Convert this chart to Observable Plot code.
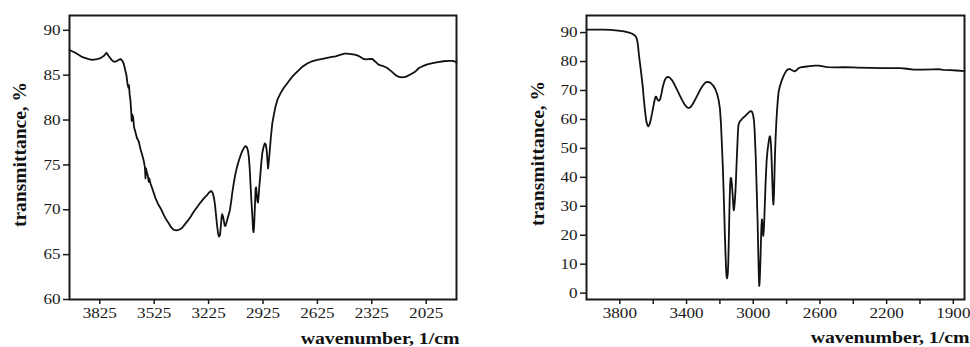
<!DOCTYPE html>
<html>
<head>
<meta charset="utf-8">
<script src="https://cdn.jsdelivr.net/npm/d3@7"></script>
<script src="https://cdn.jsdelivr.net/npm/@observablehq/plot@0.6"></script>
<style>
  html, body { margin: 0; padding: 0; background: #fff; }
  #wrap { position: relative; width: 970px; height: 347px; overflow: hidden; background: #fff; }
  #left, #right { position: absolute; top: 0; }
  #left { left: 0; }
  #right { left: 485px; }
</style>
</head>
<body>
<div id="wrap"><div id="left"></div><div id="right"></div></div>
<script>
// ---- Left spectrum ----
const leftWn = [3992,3960,3920,3886,3867,3840,3821,3800,3788,3775,3760,3748,3738,3722,3711,3700,3692,3684,3678,3672,3667,3664,3660,3656,3652,3649,3646,3641,3636,3628,3620,3610,3601,3591,3582,3576,3573,3570,3566,3560,3555,3552,3545,3536,3518,3500,3485,3472,3458,3445,3430,3417,3400,3385,3370,3355,3343,3325,3306,3288,3270,3250,3235,3224,3211,3203,3196,3190,3184,3178,3172,3167,3162,3157,3153,3150,3146,3141,3136,3132,3126,3118,3108,3100,3095,3086,3077,3068,3058,3048,3040,3030,3022,3014,3008,3003,2998,2994,2989,2984,2980,2977,2974,2970,2966,2963,2960,2956,2953,2950,2946,2940,2934,2929,2922,2915,2910,2905,2901,2897,2893,2888,2882,2874,2865,2856,2845,2828,2810,2791,2765,2736,2710,2681,2655,2626,2590,2552,2525,2500,2475,2461,2440,2420,2405,2390,2375,2360,2340,2322,2305,2290,2277,2260,2240,2215,2194,2175,2157,2140,2130,2110,2093,2080,2065,2045,2019,1990,1960,1930,1900,1880,1865,1858];
const leftT = [87.8,87.5,87.0,86.8,86.7,86.8,86.9,87.2,87.5,87.1,86.7,86.5,86.5,86.7,86.8,86.6,86.2,85.5,85.0,84.0,83.6,83.9,82.8,82.2,81.0,79.9,80.6,80.3,79.2,78.6,78.0,77.6,76.8,76.1,75.4,74.7,73.5,74.6,74.2,73.8,73.1,73.5,72.9,72.4,71.3,70.5,70.0,69.4,68.9,68.5,68.0,67.75,67.7,67.8,68.0,68.4,68.7,69.2,69.8,70.3,70.8,71.3,71.6,71.9,72.1,71.9,71.4,70.6,69.4,68.2,67.3,67.0,67.2,68.3,69.2,69.5,69.3,68.8,68.2,68.2,68.6,69.2,69.9,71.0,71.8,73.0,74.0,74.8,75.5,76.1,76.5,76.9,77.1,77.0,76.6,75.9,74.5,72.9,71.0,69.4,67.8,67.5,68.2,70.2,72.3,72.5,71.8,71.0,70.8,71.3,72.4,73.8,75.3,76.3,77.0,77.4,77.3,76.7,75.6,74.6,75.4,76.5,78.0,79.6,80.6,81.5,82.3,83.0,83.6,84.1,84.8,85.4,85.9,86.3,86.55,86.7,86.85,87.0,87.1,87.25,87.4,87.4,87.35,87.3,87.2,87.05,86.85,86.75,86.8,86.8,86.5,86.2,86.1,86.0,85.8,85.4,85.0,84.8,84.75,84.8,84.9,85.1,85.3,85.5,85.8,86.0,86.2,86.35,86.45,86.55,86.6,86.6,86.5,86.4];
const leftXTicks = [3825,3525,3225,2925,2625,2325,2025];
const leftXTickLabels = ["3825","3525","3225","2925","2625","2325","2025"];
const leftYTicks = [60,65,70,75,80,85,90];

// ---- Right spectrum ----
const rightWn = [4000,3950,3900,3855,3810,3775,3745,3725,3710,3701,3695,3691,3685,3675,3668,3663,3657,3651,3645,3640,3634,3629,3622,3615,3607,3599,3591,3585,3581,3575,3569,3562,3557,3550,3545,3537,3529,3520,3511,3500,3485,3470,3455,3440,3425,3410,3395,3385,3375,3360,3346,3330,3316,3300,3286,3275,3266,3253,3240,3228,3216,3207,3200,3194,3190,3186,3182,3178,3174,3170,3166,3163,3160,3157,3153,3150,3147,3144,3141,3138,3135,3132,3128,3124,3120,3117,3114,3110,3106,3101,3096,3092,3089,3083,3076,3062,3046,3033,3020,3012,3006,3001,2996,2992,2989,2985,2982,2978,2974,2971,2968,2966,2964,2962,2960,2957,2954,2951,2948,2946,2943,2940,2937,2934,2930,2926,2920,2914,2908,2903,2900,2897,2894,2891,2888,2885,2882,2879,2876,2873,2870,2866,2862,2858,2853,2848,2840,2830,2820,2810,2800,2790,2780,2770,2760,2750,2740,2730,2717,2690,2660,2630,2607,2580,2557,2500,2457,2400,2377,2300,2218,2150,2118,2080,2038,1980,1920,1889,1860,1819,1780,1733];
const rightT = [91.0,91.0,91.0,90.9,90.7,90.4,90.0,89.6,89.0,88.3,87.0,85.5,82.0,77.5,74.0,71.5,67.5,64.0,61.0,59.0,58.0,57.6,58.3,59.8,62.0,64.5,66.8,67.9,67.8,66.9,66.5,66.6,67.3,69.0,70.6,72.4,73.8,74.5,74.7,74.4,73.4,71.8,70.0,68.2,66.5,65.0,64.1,64.0,64.3,65.6,67.1,68.9,70.5,71.9,72.8,73.0,72.9,72.5,71.7,70.5,68.7,66.5,63.8,59.0,54.0,48.5,43.0,36.0,28.0,20.0,13.0,8.5,5.8,5.1,6.5,10.0,17.0,25.5,33.0,38.2,39.8,39.7,37.5,34.5,30.5,28.6,29.5,32.0,36.0,43.0,50.0,55.5,58.0,59.0,59.6,60.5,61.3,62.1,62.8,62.9,62.5,61.6,59.8,56.5,52.5,47.0,41.0,33.5,25.0,17.0,9.5,5.0,2.5,3.5,6.0,11.0,17.5,23.0,25.5,24.5,21.5,19.8,21.5,25.0,31.5,38.0,45.5,49.5,52.0,53.8,54.2,53.5,51.5,48.0,43.0,37.5,32.5,30.6,33.5,40.0,47.0,53.5,58.5,62.5,66.5,69.5,71.5,73.3,74.8,76.0,76.9,77.4,77.4,77.1,76.8,76.6,77.0,77.6,78.0,78.2,78.4,78.6,78.6,78.3,78.1,78.0,78.1,77.95,77.9,77.8,77.75,77.7,77.7,77.5,77.2,77.2,77.3,77.35,77.1,77.0,76.9,76.7];
const rightXTicks = [3800,3600,3400,3200,3000,2800,2600,2400,2200,2000,1800];
const rightXTickLabels = ["3800","","3400","","3000","","2600","","2200","","1900"];
const rightYTicks = [0,10,20,30,40,50,60,70,80,90];

const xTitle = "wavenumber, 1/cm";
const yTitle = "transmittance, %";

const FONT = "'Liberation Serif', 'Times New Roman', serif";
const STRETCH = 1.18; // the reference's horizontal texts are drawn slightly widened

function panel(o) {
  const data = o.wn.map((w, i) => ({w, t: o.t[i]}));
  const svg = Plot.plot({
    width: 485,
    height: 347,
    marginLeft: o.marginLeft,
    marginRight: o.marginRight,
    marginTop: 15,
    marginBottom: 48,
    x: {domain: o.xDomain},
    y: {domain: o.yDomain},
    style: {fontFamily: FONT, fontSize: "14.5px", color: "#1a1a1a", background: "#fff", overflow: "visible"},
    marks: [
      Plot.line(data, {x: "w", y: "t", stroke: "#111", strokeWidth: 1.8, curve: "linear"}),
      Plot.frame({stroke: "#1a1a1a", strokeWidth: 2}),
      Plot.axisX({ticks: o.xTicks, tickFormat: d => o.xLabels[o.xTicks.indexOf(d)], tickSize: 5, tickPadding: 3, label: null, fontSize: 14.5, fontFamily: FONT, strokeWidth: 1.5}),
      Plot.axisY({ticks: o.yTicks, tickSize: 6, tickPadding: 3, label: null, fontSize: 14.5, fontFamily: FONT, strokeWidth: 1.5}),
      Plot.text([xTitle], {text: d => d, frameAnchor: "bottom-right", textAnchor: "end", lineAnchor: "middle", dx: o.xdx, dy: o.xdy, fontWeight: "bold", fontSize: 16.8, fontFamily: FONT, fill: "#111"}),
      Plot.text([yTitle], {text: d => d, frameAnchor: "left", rotate: -90, textAnchor: "middle", lineAnchor: "middle", dx: o.ydx, dy: o.ydy, fontWeight: "bold", fontSize: 19.5, fontFamily: FONT, fill: "#111"})
    ]
  });
  // widen horizontal texts about their anchor point
  svg.querySelectorAll("text").forEach(el => {
    const tr = el.getAttribute("transform") || "";
    if (tr.includes("rotate")) return;
    if (tr) {
      el.setAttribute("transform", tr + ` scale(${STRETCH},1)`);
    } else {
      const x = +(el.getAttribute("x") || 0), y = +(el.getAttribute("y") || 0);
      el.setAttribute("transform", `translate(${x},${y}) scale(${STRETCH},1) translate(${-x},${-y})`);
    }
  });
  return svg;
}

document.getElementById("left").append(panel({
  wn: leftWn, t: leftT, xDomain: [3992, 1858], yDomain: [60, 91.65],
  xTicks: leftXTicks, xLabels: leftXTickLabels, yTicks: leftYTicks,
  marginLeft: 69, marginRight: 29, xdx: 3, xdy: 39, ydx: -50, ydy: -3
}));
document.getElementById("right").append(panel({
  wn: rightWn, t: rightT, xDomain: [4000, 1733], yDomain: [-2.2, 95.9],
  xTicks: rightXTicks, xLabels: rightXTickLabels, yTicks: rightYTicks,
  marginLeft: 101, marginRight: 6, xdx: 5, xdy: 38, ydx: -49, ydy: -4
}));
</script>
</body>
</html>
